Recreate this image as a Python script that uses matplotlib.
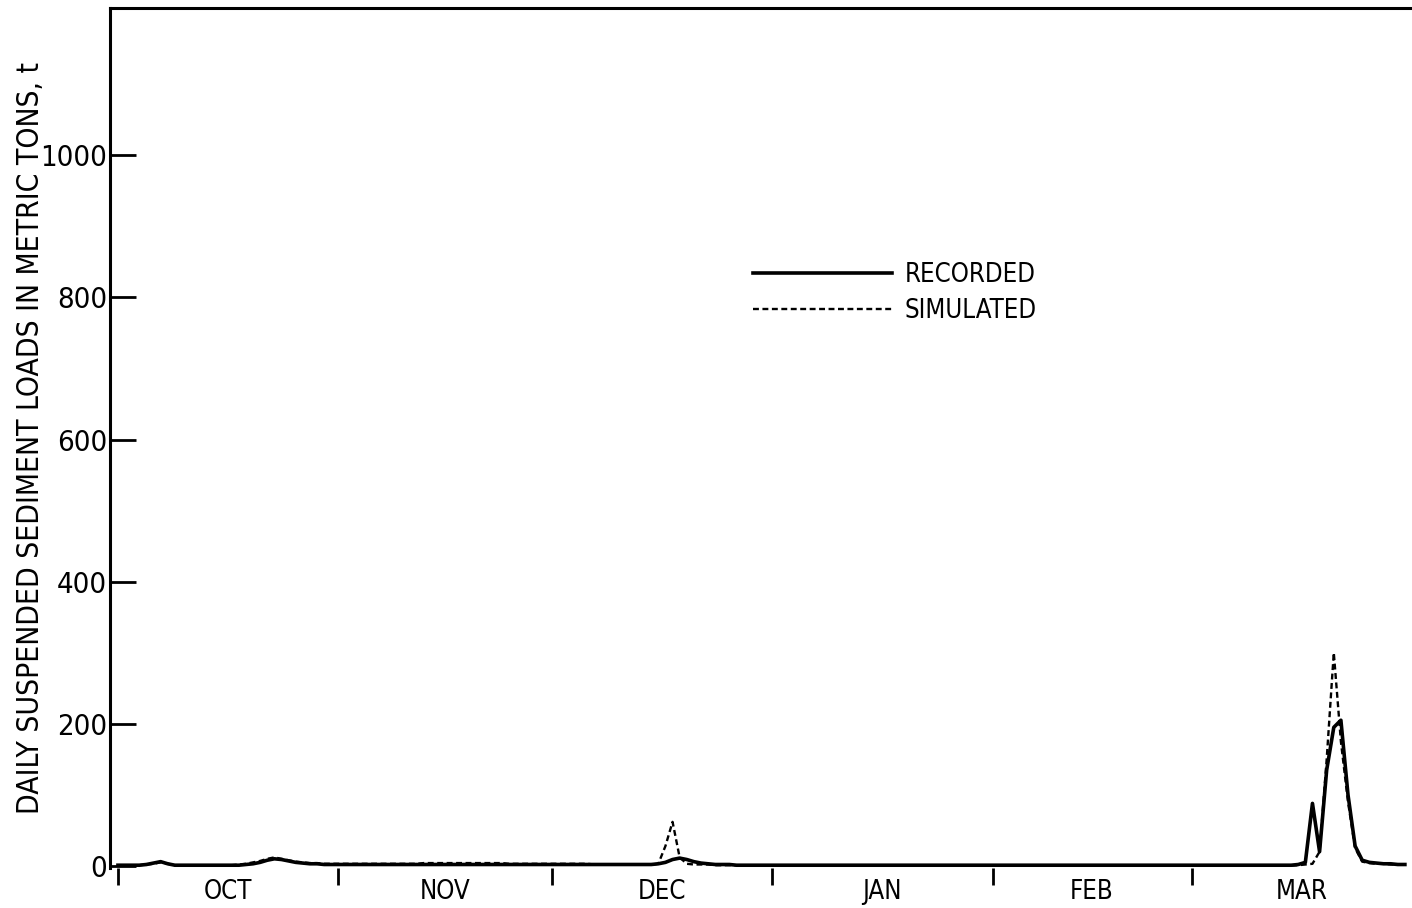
import matplotlib.pyplot as plt
import numpy as np

# daily values, Oct 1 .. Mar 31 (182 days)
recorded_oct = [1, 1, 1, 1, 2, 4, 6, 3, 1, 1, 1, 1, 1, 1, 1, 1, 1, 1, 2, 3,
                5, 8, 10, 9, 7, 5, 4, 3, 3, 2, 2]
recorded_nov = [2, 2, 2, 2, 2, 2, 2, 2, 2, 2, 2, 2, 2, 2, 2, 2, 2, 2, 2, 2,
                2, 2, 2, 2, 2, 2, 2, 2, 2, 2]
recorded_dec = [2, 2, 2, 2, 2, 2, 2, 2, 2, 2, 2, 2, 2, 2, 2, 3, 5, 9, 11, 9,
                6, 4, 3, 2, 2, 2, 1, 1, 1, 1, 1]
recorded_jan = [1] * 31
recorded_feb = [1] * 28
recorded_mar = [1, 1, 1, 1, 1, 1, 1, 1, 1, 1, 1, 1, 1, 1, 1, 2, 5, 88, 20, 135,
                195, 205, 100, 28, 8, 5, 4, 3, 3, 2, 2]

simulated_oct = [1, 1, 1, 1, 2, 3, 5, 3, 1, 1, 1, 1, 1, 1, 1, 1, 1, 2, 3, 5,
                 7, 10, 12, 10, 8, 6, 5, 4, 4, 3, 3]
simulated_nov = [3, 3, 3, 3, 3, 3, 3, 3, 3, 3, 3, 3, 4, 4, 4, 4, 4, 4, 4, 4,
                 4, 4, 4, 4, 3, 3, 3, 3, 3, 3]
simulated_dec = [3, 3, 3, 3, 3, 3, 2, 2, 2, 2, 2, 2, 2, 2, 2, 3, 28, 62, 12, 3,
                 2, 2, 2, 1, 1, 1, 1, 1, 1, 1, 1]
simulated_jan = [0.5] * 31
simulated_feb = [0.5] * 28
simulated_mar = [0.5, 0.5, 0.5, 0.5, 0.5, 0.5, 0.5, 0.5, 0.5, 0.5, 0.5, 0.5, 0.5, 0.5, 0.5, 1, 2, 3, 20, 150,
                 300, 175, 90, 25, 6, 4, 3, 3, 2, 2, 2]

months = ['OCT', 'NOV', 'DEC', 'JAN', 'FEB', 'MAR']
month_days = [31, 30, 31, 31, 28, 31]
y_ticks = [0, 200, 400, 600, 800, 1000]

recorded = recorded_oct + recorded_nov + recorded_dec + recorded_jan + recorded_feb + recorded_mar
simulated = simulated_oct + simulated_nov + simulated_dec + simulated_jan + simulated_feb + simulated_mar
days = np.arange(len(recorded))

starts = np.concatenate([[0], np.cumsum(month_days)[:-1]])
mids = starts + np.array(month_days) / 2

plt.rcParams['font.family'] = ['DejaVu Sans']
plt.rcParams['font.stretch'] = 'condensed'

fig = plt.figure(figsize=(14.12, 9.08), dpi=100)
ax = fig.add_axes([0.078, 0.044, 0.922, 0.947])

ax.plot(days, recorded, color='black', lw=2.6, label='RECORDED')
ax.plot(days, simulated, color='black', lw=1.7, dashes=(2.5, 1.5), label='SIMULATED')

ax.set_xlim(-1.1, 182)
ax.set_ylim(-3, 1207)

ax.set_yticks(y_ticks)
ax.tick_params(axis='y', direction='in', length=19, width=2, labelsize=21, pad=2)

ax.set_xticks(starts)
ax.set_xticklabels([''] * len(starts))
ax.set_xticks(mids, minor=True)
ax.set_xticklabels(months, minor=True)
ax.tick_params(axis='x', which='major', direction='out', length=12, width=2)
ax.tick_params(axis='x', which='minor', length=0, labelsize=18.5, pad=8)

for s in ['bottom', 'right']:
    ax.spines[s].set_visible(False)
for s in ['left', 'top']:
    ax.spines[s].set_linewidth(2.2)

ax.set_ylabel('DAILY SUSPENDED SEDIMENT LOADS IN METRIC TONS, t', fontsize=21.5)
ax.yaxis.set_label_coords(-0.050, 0.5)

ax.legend(loc='center left', bbox_to_anchor=(0.494, 0.669), frameon=False,
          fontsize=18.5, handlelength=5.4, handletextpad=0.5, labelspacing=0.4,
          borderpad=0, borderaxespad=0)

plt.savefig('out.png')
